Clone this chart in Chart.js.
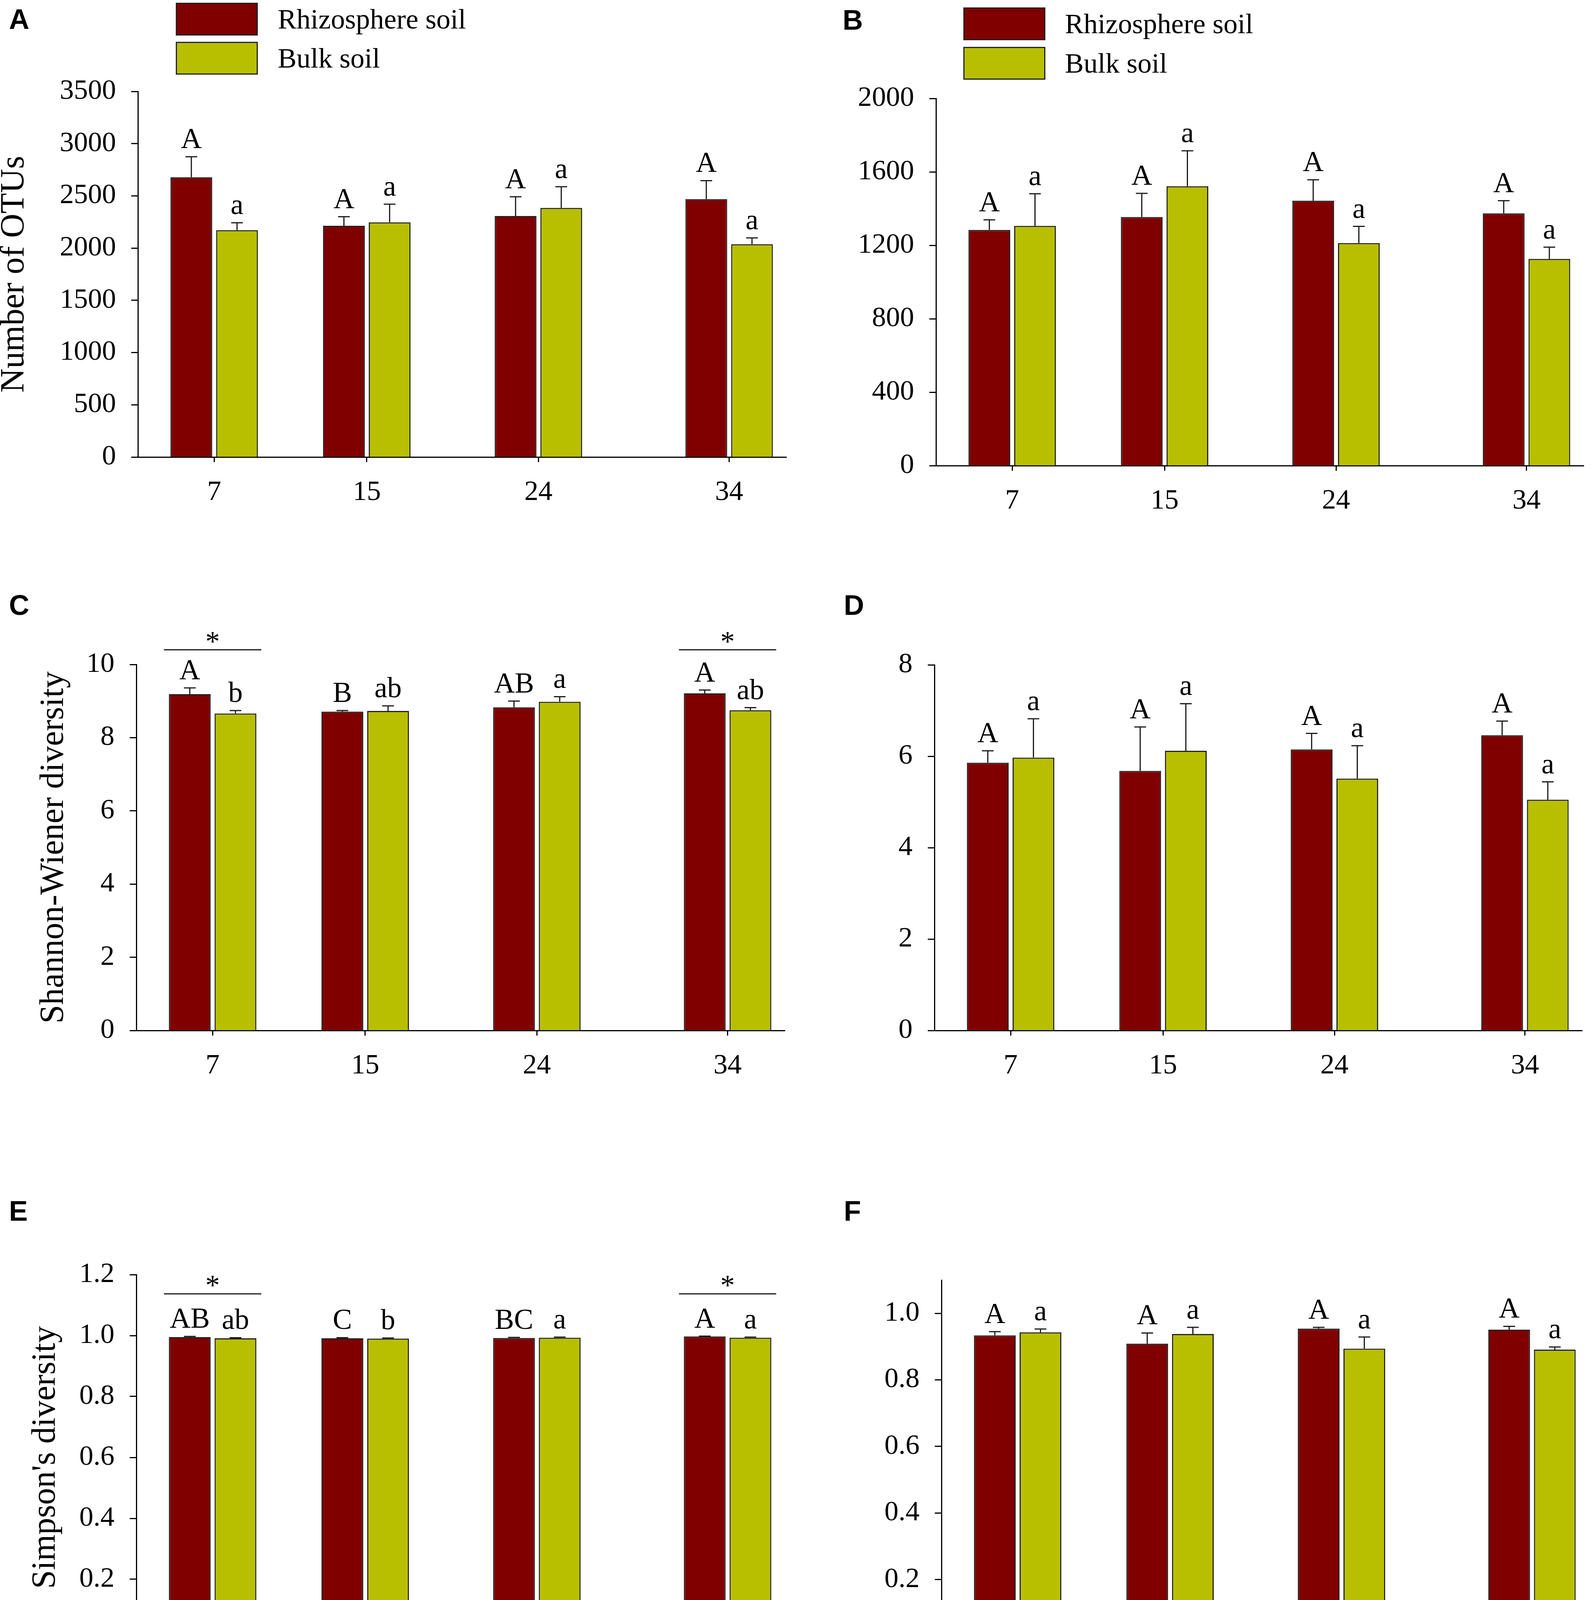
<!DOCTYPE html>
<html>
<head>
<meta charset="utf-8">
<title>Rhizosphere vs bulk soil diversity by stand age</title>
<script src="https://cdn.jsdelivr.net/npm/chart.js@4.4.1/dist/chart.umd.min.js"></script>
<style>
  html, body { margin: 0; padding: 0; background: #fff; }
  body { width: 4083px; height: 4550px; position: relative; overflow: hidden; font-family: 'Liberation Serif', 'Times New Roman', serif; color: #000; }
  canvas { position: absolute; }
  .tag { position: absolute; font: bold 72px 'Liberation Sans', Arial, sans-serif; line-height: 72px; }
  .key { position: absolute; width: 204px; height: 78px; border: 3px solid #222; }
  .keytext { position: absolute; font-size: 72px; line-height: 84px; white-space: nowrap; }
</style>
</head>
<body>

<div class="tag" style="left:23px; top:13px">A</div>
<div class="tag" style="left:2157px; top:15px">B</div>
<div class="tag" style="left:23px; top:1513px">C</div>
<div class="tag" style="left:2160px; top:1513px">D</div>
<div class="tag" style="left:23px; top:3064px">E</div>
<div class="tag" style="left:2160px; top:3064px">F</div>

<!-- legends (panels A and B) -->
<div class="key" style="left:450px; top:7px; background:#800000"></div>
<div class="key" style="left:450px; top:107px; background:#b8bf00"></div>
<div class="keytext" style="left:711px; top:7px">Rhizosphere soil</div>
<div class="keytext" style="left:711px; top:107px">Bulk soil</div>

<div class="key" style="left:2466px; top:19px; background:#800000"></div>
<div class="key" style="left:2466px; top:120px; background:#b8bf00"></div>
<div class="keytext" style="left:2726px; top:19px">Rhizosphere soil</div>
<div class="keytext" style="left:2726px; top:120px">Bulk soil</div>

<script>
// stand ages (x axis is numeric, bars sit on the real age)
const ages = [7, 15, 24, 34];
const seriesNames = ['Rhizosphere soil', 'Bulk soil'];

// A - number of OTUs
const rhizoA = [2678, 2214, 2307, 2469];
const rhizoErrA = [197, 87, 184, 177];
const bulkA = [2172, 2246, 2385, 2037];
const bulkErrA = [71, 174, 203, 61];
const rhizoLettersA = ['A', 'A', 'A', 'A'];
const bulkLettersA = ['a', 'a', 'a', 'a'];
const yTicksA = [0, 500, 1000, 1500, 2000, 2500, 3000, 3500];

// B - number of OTUs
const rhizoB = [1284, 1354, 1443, 1374];
const rhizoErrB = [55, 129, 114, 69];
const bulkB = [1306, 1522, 1212, 1126];
const bulkErrB = [175, 193, 91, 64];
const rhizoLettersB = ['A', 'A', 'A', 'A'];
const bulkLettersB = ['a', 'a', 'a', 'a'];
const yTicksB = [0, 400, 800, 1200, 1600, 2000];

// C - Shannon-Wiener
const rhizoC = [9.19, 8.71, 8.83, 9.21];
const rhizoErrC = [0.17, 0.03, 0.17, 0.09];
const bulkC = [8.66, 8.73, 8.98, 8.75];
const bulkErrC = [0.08, 0.14, 0.14, 0.07];
const rhizoLettersC = ['A', 'B', 'AB', 'A'];
const bulkLettersC = ['b', 'ab', 'a', 'ab'];
const yTicksC = [0, 2, 4, 6, 8, 10];
const sigAgesC = [7, 34];

// D - Shannon-Wiener
const rhizoD = [5.86, 5.68, 6.15, 6.46];
const rhizoErrD = [0.26, 0.96, 0.35, 0.31];
const bulkD = [5.97, 6.12, 5.51, 5.05];
const bulkErrD = [0.85, 1.03, 0.72, 0.39];
const rhizoLettersD = ['A', 'A', 'A', 'A'];
const bulkLettersD = ['a', 'a', 'a', 'a'];
const yTicksD = [0, 2, 4, 6, 8];

// E - Simpson
const rhizoE = [0.995, 0.991, 0.992, 0.997];
const rhizoErrE = [0.002, 0.002, 0.002, 0.001];
const bulkE = [0.991, 0.990, 0.993, 0.993];
const bulkErrE = [0.002, 0.002, 0.002, 0.002];
const rhizoLettersE = ['AB', 'C', 'BC', 'A'];
const bulkLettersE = ['ab', 'b', 'a', 'a'];
const yTicksE = [0, 0.2, 0.4, 0.6, 0.8, 1.0, 1.2];
const sigAgesE = [7, 34];

// F - Simpson
const rhizoF = [0.934, 0.909, 0.954, 0.951];
const rhizoErrF = [0.011, 0.032, 0.004, 0.010];
const bulkF = [0.943, 0.938, 0.894, 0.891];
const bulkErrF = [0.010, 0.020, 0.035, 0.008];
const rhizoLettersF = ['A', 'A', 'A', 'A'];
const bulkLettersF = ['a', 'a', 'a', 'a'];
const yTicksF = [0, 0.2, 0.4, 0.6, 0.8, 1.0];

const RHIZO = '#800000';
const BULK = '#b8bf00';
const SERIF = "'Liberation Serif', 'Times New Roman', serif";
const PAD_TOP = 140;
const PAD_RIGHT = 60;
const TITLE_SIZE = 86;
const TITLE_HALF = TITLE_SIZE * 1.2 / 2;

// error bars, letters and significance brackets
const barMarks = {
    id: 'barMarks',
    afterDatasetsDraw(chart, args, opts) {
        const { ctx } = chart;
        const xs = chart.scales.x;
        const ys = chart.scales.y;
        ctx.save();
        ctx.strokeStyle = '#1a1a1a';
        ctx.fillStyle = '#000';
        ctx.lineWidth = 3;
        ctx.font = '74px ' + SERIF;
        ctx.textAlign = 'center';
        ctx.textBaseline = 'alphabetic';
        chart.data.datasets.forEach((ds, i) => {
            chart.getDatasetMeta(i).data.forEach((bar, j) => {
                const yTop = ys.getPixelForValue(ds.data[j] + ds.err[j]);
                ctx.beginPath();
                ctx.moveTo(bar.x, bar.y);
                ctx.lineTo(bar.x, yTop);
                ctx.moveTo(bar.x - 15, yTop);
                ctx.lineTo(bar.x + 15, yTop);
                ctx.stroke();
                ctx.fillText(ds.marks[j], bar.x, yTop - 22);
            });
        });
        (opts.ages || []).forEach(age => {
            const yb = ys.getPixelForValue(opts.level);
            ctx.beginPath();
            ctx.moveTo(xs.getPixelForValue(age - 2.55), yb);
            ctx.lineTo(xs.getPixelForValue(age + 2.55), yb);
            ctx.stroke();
            ctx.fillText('*', xs.getPixelForValue(age), yb + 3);
        });
        ctx.restore();
    }
};

function makePanel(p) {
    const left = Math.round(p.titleX != null ? p.titleX - TITLE_HALF : p.L - 300);
    const yw = p.L - left;
    const top = p.T - PAD_TOP;
    const w = (p.R - p.L) + yw + PAD_RIGHT;
    const h = (p.B - p.T) + PAD_TOP + p.xh;

    const canvas = document.createElement('canvas');
    canvas.width = w;
    canvas.height = h;
    canvas.style.left = left + 'px';
    canvas.style.top = top + 'px';
    canvas.style.width = w + 'px';
    canvas.style.height = h + 'px';
    document.body.appendChild(canvas);

    const tickFont = { family: SERIF, size: 72, lineHeight: 1.2 };
    const titleFont = { family: SERIF, size: TITLE_SIZE, lineHeight: 1.2 };
    const axisGrid = len => ({
        display: true, offset: false, drawOnChartArea: false, drawTicks: true,
        tickLength: len, tickWidth: 3, tickColor: '#000'
    });

    new Chart(canvas, {
        type: 'bar',
        data: {
            labels: ages,
            datasets: [{
                label: seriesNames[0],
                data: p.rhizo, err: p.rhizoErr, marks: p.rhizoLetters,
                backgroundColor: RHIZO
            }, {
                label: seriesNames[1],
                data: p.bulk, err: p.bulkErr, marks: p.bulkLetters,
                backgroundColor: BULK
            }]
        },
        options: {
            responsive: false,
            animation: false,
            devicePixelRatio: 1,
            layout: { padding: { left: 0, top: PAD_TOP, right: PAD_RIGHT, bottom: 0 } },
            datasets: {
                bar: { categoryPercentage: 0.599, barPercentage: 0.9145, borderWidth: 3, borderColor: '#222' }
            },
            plugins: {
                legend: { display: false },
                tooltip: { enabled: false },
                barMarks: { ages: p.sig || [], level: p.sigLevel }
            },
            scales: {
                x: {
                    type: 'linear', min: 3, max: 37, offset: false,
                    afterBuildTicks: s => { s.ticks = ages.map(v => ({ value: v })); },
                    afterFit: s => { s.height = p.xh; },
                    grid: axisGrid(13),
                    border: { display: true, width: 3, color: '#000' },
                    ticks: { padding: 35, font: tickFont, color: '#000', maxRotation: 0, autoSkip: false, callback: v => String(v) },
                    title: { display: !!p.xTitle, text: p.xTitle || '', font: titleFont, color: '#000', padding: 0 }
                },
                y: {
                    min: 0, max: p.max,
                    afterBuildTicks: s => { s.ticks = p.yTicks.map(v => ({ value: v })); },
                    afterFit: s => { s.width = yw; },
                    grid: axisGrid(17),
                    border: { display: true, width: 3, color: '#000' },
                    ticks: { padding: 39, font: tickFont, color: '#000', callback: v => v.toFixed(p.dec) },
                    title: { display: !!p.yTitle, text: p.yTitle || '', font: titleFont, color: '#000', padding: 0 }
                }
            }
        },
        plugins: [barMarks]
    });
}

makePanel({ L: 353, R: 2013, T: 234, B: 1170, xh: 150, max: 3500, dec: 0, yTicks: yTicksA,
    rhizo: rhizoA, rhizoErr: rhizoErrA, rhizoLetters: rhizoLettersA,
    bulk: bulkA, bulkErr: bulkErrA, bulkLetters: bulkLettersA,
    yTitle: 'Number of OTUs', titleX: 38 });

makePanel({ L: 2396, R: 4054, T: 252, B: 1192, xh: 150, max: 2000, dec: 0, yTicks: yTicksB,
    rhizo: rhizoB, rhizoErr: rhizoErrB, rhizoLetters: rhizoLettersB,
    bulk: bulkB, bulkErr: bulkErrB, bulkLetters: bulkLettersB });

makePanel({ L: 349, R: 2009, T: 1701, B: 2638, xh: 150, max: 10, dec: 0, yTicks: yTicksC,
    rhizo: rhizoC, rhizoErr: rhizoErrC, rhizoLetters: rhizoLettersC,
    bulk: bulkC, bulkErr: bulkErrC, bulkLetters: bulkLettersC,
    sig: sigAgesC, sigLevel: 10.4,
    yTitle: 'Shannon-Wiener diversity', titleX: 139 });

makePanel({ L: 2392, R: 4050, T: 1702, B: 2638, xh: 150, max: 8, dec: 0, yTicks: yTicksD,
    rhizo: rhizoD, rhizoErr: rhizoErrD, rhizoLetters: rhizoLettersD,
    bulk: bulkD, bulkErr: bulkErrD, bulkLetters: bulkLettersD });

makePanel({ L: 349, R: 2009, T: 3263, B: 4199, xh: 348, max: 1.2, dec: 1, yTicks: yTicksE,
    rhizo: rhizoE, rhizoErr: rhizoErrE, rhizoLetters: rhizoLettersE,
    bulk: bulkE, bulkErr: bulkErrE, bulkLetters: bulkLettersE,
    sig: sigAgesE, sigLevel: 1.137,
    yTitle: "Simpson's diversity", titleX: 118, xTitle: 'Stand age/year' });

makePanel({ L: 2410, R: 4068, T: 3277, B: 4214, xh: 333, max: 1.1, dec: 1, yTicks: yTicksF,
    rhizo: rhizoF, rhizoErr: rhizoErrF, rhizoLetters: rhizoLettersF,
    bulk: bulkF, bulkErr: bulkErrF, bulkLetters: bulkLettersF,
    xTitle: 'Stand age/year' });
</script>
</body>
</html>
